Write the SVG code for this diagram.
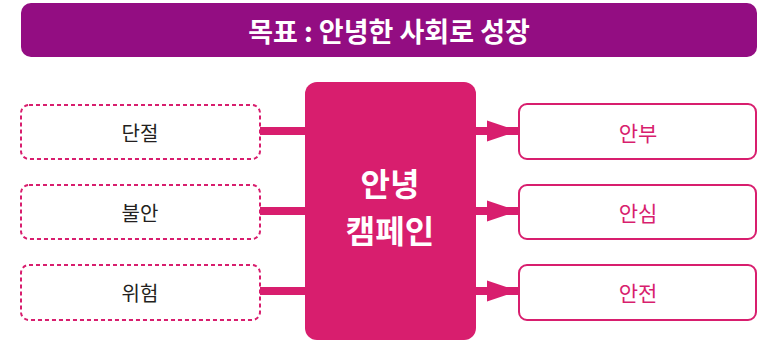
<svg xmlns="http://www.w3.org/2000/svg" width="758" height="342" viewBox="0 0 758 342">
<style>
text{font-family:"Noto Sans CJK KR","Noto Sans",sans-serif;text-anchor:middle;dominant-baseline:central}
.in{fill:#fff;stroke:#D81E6E;stroke-width:2;stroke-dasharray:4 3}
.out{fill:#fff;stroke:#D81E6E;stroke-width:2}
.lt{font-size:20px;fill:#231F20}
.rt{font-size:21px;fill:#D81E6E}
.bar{stroke:#D81E6E;stroke-width:8}
</style>
<defs>
<marker id="ah" markerUnits="userSpaceOnUse" markerWidth="31" markerHeight="22" refX="31" refY="11" orient="auto">
<path d="M0,0.5 L31,11 L0,21.5 Z" fill="#D81E6E"/>
</marker>
</defs>
<g id="header">
<rect x="21" y="3" width="736" height="54" rx="10" fill="#930D82"/>
<text x="389" y="30" font-size="27" font-weight="bold" fill="#fff">목표 : 안녕한 사회로 성장</text>
</g>
<g id="connectors">
<line class="bar" x1="260" y1="131" x2="306" y2="131"/>
<line class="bar" x1="260" y1="211" x2="306" y2="211"/>
<line class="bar" x1="260" y1="291" x2="306" y2="291"/>
<line class="bar" x1="475" y1="131" x2="518" y2="131" marker-end="url(#ah)"/>
<line class="bar" x1="475" y1="211" x2="518" y2="211" marker-end="url(#ah)"/>
<line class="bar" x1="475" y1="291" x2="518" y2="291" marker-end="url(#ah)"/>
</g>
<g id="center">
<rect x="305" y="82" width="171" height="258" rx="12" fill="#D81E6E"/>
<text x="390" y="182" font-size="32" font-weight="bold" fill="#fff">안녕</text>
<text x="390" y="229" font-size="32" font-weight="bold" fill="#fff">캠페인</text>
</g>
<g id="in1"><rect class="in" x="21" y="105" width="239" height="54" rx="8"/><text class="lt" x="140" y="132">단절</text></g>
<g id="in2"><rect class="in" x="21" y="185" width="239" height="54" rx="8"/><text class="lt" x="140" y="212">불안</text></g>
<g id="in3"><rect class="in" x="21" y="265" width="239" height="55" rx="8"/><text class="lt" x="140" y="292">위험</text></g>
<g id="out1"><rect class="out" x="519" y="104" width="237" height="55" rx="8"/><text class="rt" x="638" y="132">안부</text></g>
<g id="out2"><rect class="out" x="519" y="185" width="237" height="54" rx="8"/><text class="rt" x="638" y="212">안심</text></g>
<g id="out3"><rect class="out" x="519" y="265" width="237" height="55" rx="8"/><text class="rt" x="638" y="292">안전</text></g>
</svg>
